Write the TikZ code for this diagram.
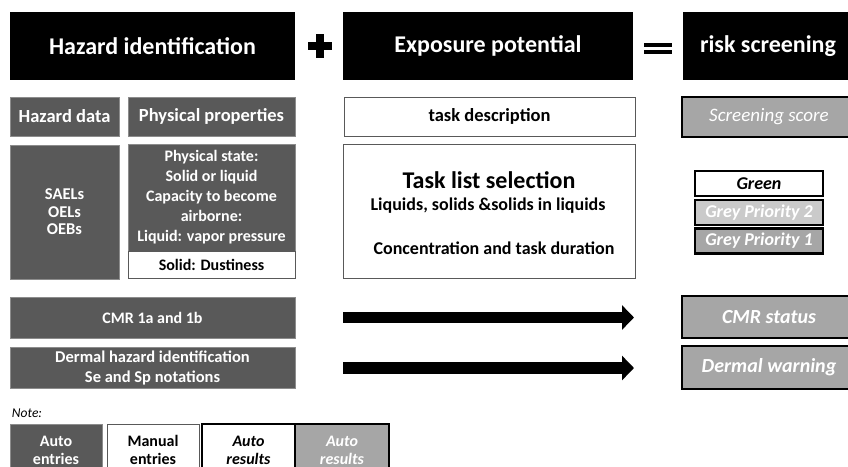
\documentclass[tikz,border=0pt]{standalone}
\usepackage{fontspec}
\setmainfont{Carlito}
\usetikzlibrary{arrows.meta}
\definecolor{dk}{HTML}{595959}
\definecolor{md}{HTML}{A6A6A6}
\definecolor{lt}{HTML}{CACACA}
\definecolor{bd}{HTML}{8C8C8C}
\begin{document}
\begin{tikzpicture}[x=1pt,y=-1pt,
  every node/.style={inner sep=0pt, outer sep=0pt, align=center},
  hdr/.style={fill=black, text=white, font=\fontsize{24}{28}\selectfont\bfseries, minimum height=68pt},
  autobox/.style={fill=dk, draw=bd, line width=0.8pt, text=white, font=\fontsize{16}{20}\selectfont\bfseries},
  manbox/.style={fill=white, draw=dk, line width=0.9pt, text=black, font=\fontsize{16}{20}\selectfont\bfseries},
  resbox/.style={fill=md, draw=black, line width=2.5pt, text=white, font=\fontsize{20}{24}\selectfont\bfseries\itshape},
  prio/.style={draw=black, line width=2.5pt, minimum width=128pt, minimum height=25pt, font=\fontsize{18}{20}\selectfont\bfseries\itshape},
  bigarrow/.style={line width=11.5pt, -{Triangle[length=12pt,width=24pt]}},
  txt/.style={font=\fontsize{18}{20}\selectfont\bfseries}
]
\useasboundingbox (0,0) rectangle (848,466);
\clip (0,0) rectangle (848,466);

% headers
\node[hdr, minimum width=285pt] (hid) at (152.5,46) {Hazard identification};
\node[hdr, minimum width=290pt] (exp) at (488,46) {Exposure potential};
\node[hdr, minimum width=170pt] (risk) at (768,46) {risk screening};
\fill (308,42) rectangle (332,50);
\fill (316,34) rectangle (324,58);
\fill (644,43) rectangle (672,47);
\fill (644,49.5) rectangle (672,53.5);

% row 2
\node[autobox, minimum width=109pt, minimum height=39pt, font=\fontsize{18.5}{22}\selectfont\bfseries] (hdata) at (64.5,116.5) {Hazard data};
\node[autobox, minimum width=167pt, minimum height=39pt, font=\fontsize{18.5}{22}\selectfont\bfseries] (phys) at (211.5,116.5) {Physical properties};
\node[manbox, minimum width=291pt, minimum height=39pt, font=\fontsize{18.5}{22}\selectfont\bfseries] (task) at (489.5,116.5) {task description};
\node[resbox, minimum width=174pt, minimum height=40pt, font=\fontsize{19}{22}\selectfont\itshape] (score) at (769,117) {Screening score};

% row 3
\node[autobox, minimum width=109pt, minimum height=134pt, font=\fontsize{16.5}{17.5}\selectfont\bfseries] (sael) at (64.5,212) {SAELs\\OELs\\OEBs};
\node[autobox, minimum width=167pt, minimum height=107pt] (pstate) at (211.5,197.5) {Physical state:\\Solid or liquid\\Capacity to become\\airborne:\\Liquid: vapor pressure};
\node[manbox, minimum width=167pt, minimum height=27pt] (dust) at (211.5,264.5) {Solid: Dustiness};
\node[manbox, minimum width=292pt, minimum height=134pt] (tlist) at (489,211) {};
\node[font=\fontsize{24}{28}\selectfont\bfseries] (tltitle) at (489,180) {Task list selection};
\node[txt] (tlliq) at (488,206) {Liquids, solids \&solids in liquids};
\node[txt] (tlconc) at (494,248) {Concentration and task duration};

\node[prio, fill=white, text=black] (green) at (759,183.5) {Green};
\node[prio, fill=lt, text=white] (gp2) at (759,212.5) {Grey Priority 2};
\node[prio, fill=md, text=white] (gp1) at (759,241) {Grey Priority 1};

% row 4
\node[autobox, minimum width=285pt, minimum height=41pt] (cmr) at (152.5,317.5) {CMR 1a and 1b};
\node[autobox, minimum width=285pt, minimum height=41pt, font=\fontsize{16.5}{20}\selectfont\bfseries] (derm) at (152.5,367.5) {Dermal hazard identification\\Se and Sp notations};
\coordinate (a1s) at (343,317.5);
\coordinate (a1e) at (634,317.5);
\coordinate (a2s) at (343,368);
\coordinate (a2e) at (634,368);
\draw[bigarrow] (a1s) -- (a1e);
\draw[bigarrow] (a2s) -- (a2e);
\node[resbox, minimum width=174pt, minimum height=42pt] (cmrst) at (769,317) {CMR status};
\node[resbox, minimum width=174pt, minimum height=43pt] (dermw) at (769,367.5) {Dermal warning};

% legend
\node[anchor=west, font=\fontsize{13.5}{16}\selectfont\itshape] (note) at (12,413) {Note:};
\node[autobox, minimum width=92pt, minimum height=52pt, font=\fontsize{16}{18}\selectfont\bfseries] (lae) at (56,450) {Auto\\entries};
\node[manbox, minimum width=92pt, minimum height=52pt, font=\fontsize{16}{18}\selectfont\bfseries] (lme) at (153,450) {Manual\\entries};
\node[draw=black, line width=2.5pt, fill=white, minimum width=93pt, minimum height=52pt, font=\fontsize{16}{18}\selectfont\bfseries\itshape] (lar1) at (248.5,450) {Auto\\results};
\node[draw=black, line width=2.5pt, fill=md, text=white, minimum width=94pt, minimum height=52pt, font=\fontsize{16}{18}\selectfont\bfseries\itshape] (lar2) at (342,450) {Auto\\results};
\end{tikzpicture}
\end{document}
